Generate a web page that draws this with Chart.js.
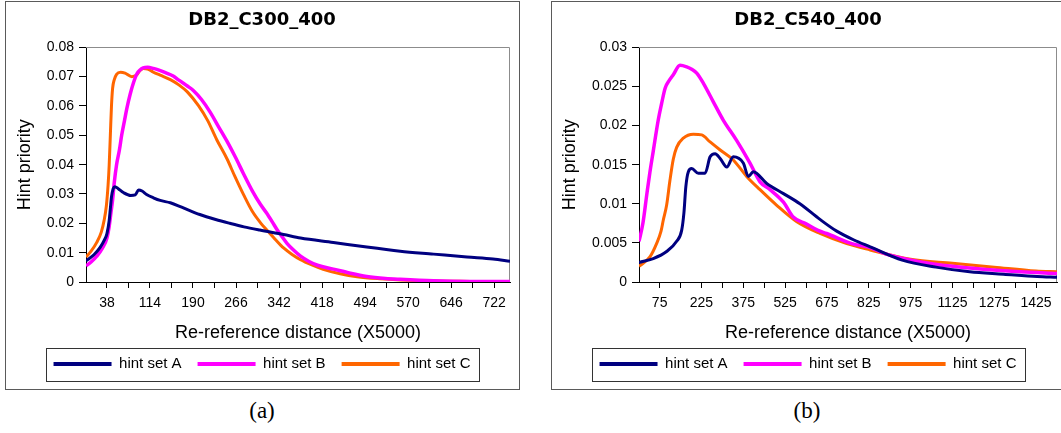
<!DOCTYPE html>
<html><head><meta charset="utf-8">
<script src="https://cdn.jsdelivr.net/npm/chart.js@4.4.1/dist/chart.umd.min.js"></script>
<style>
html,body{margin:0;padding:0;background:#fff;}
body{width:1061px;height:433px;overflow:hidden;position:relative;}
canvas{position:absolute;top:1px;}
.frame{position:absolute;top:1px;width:515px;height:389px;box-sizing:border-box;border:1px solid #5a5a5a;pointer-events:none;}
.cap{position:absolute;top:397px;font-family:'Liberation Serif','DejaVu Serif',serif;font-size:23px;line-height:28px;color:#000;transform:translateX(-50%);}
</style></head>
<body>
<canvas id="c1" width="514" height="388" style="left:5px"></canvas>
<canvas id="c2" width="514" height="388" style="left:551px"></canvas>
<div class="frame" style="left:5px"></div>
<div class="frame" style="left:551px"></div>
<div class="cap" style="left:262px">(a)</div>
<div class="cap" style="left:807px">(b)</div>
<script>
const seriesNames = ['hint set A', 'hint set B', 'hint set C'];
const seriesColors = ['#000080', '#ff00ff', '#ff6600'];

// ---- Chart (a): DB2_C300_400 ----
const aDistA = [1,15,26,34,38,42,44,46,49,52,58,67,80,88,94,100,108,120,132,150,170,202,230,255,280,308,350,380,438,497,556,615,674,720,750];
const aHintA = [0.0072,0.0093,0.0118,0.0145,0.0165,0.021,0.025,0.029,0.0318,0.0325,0.0318,0.0305,0.0295,0.0297,0.0314,0.0310,0.0298,0.0287,0.0278,0.0270,0.0255,0.0230,0.0213,0.0200,0.0188,0.0177,0.0162,0.0150,0.0135,0.0119,0.0105,0.0095,0.0085,0.0078,0.0071];
const aDistB = [1,10,20,30,38,42,45,48,51,55,60,64,69,73,79,85,91,96,102,110,120,130,143,155,165,180,191,205,220,235,250,265,279,295,309,320,330,338,347,356,368,380,395,410,438,468,497,530,556,615,680,750];
const aHintB = [0.0055,0.0068,0.0088,0.0115,0.015,0.019,0.0235,0.028,0.034,0.040,0.045,0.050,0.055,0.059,0.064,0.068,0.0710,0.0722,0.0730,0.0732,0.0728,0.0722,0.0712,0.0702,0.0688,0.0668,0.0652,0.0622,0.0580,0.0530,0.0480,0.0425,0.0370,0.0310,0.0265,0.0235,0.0205,0.0180,0.0155,0.0132,0.0108,0.0088,0.0070,0.0057,0.0044,0.0030,0.0019,0.0012,0.0009,0.0004,0.0002,0.0002];
const aDistC = [1,10,20,28,33,37,40,42,44,46,48,51,55,62,70,82,90,96,102,110,120,132,150,165,180,200,216,232,250,264,280,295,310,320,335,350,365,380,400,420,450,480,520,556,620,680,750];
const aHintC = [0.0085,0.0105,0.0135,0.017,0.021,0.026,0.033,0.040,0.050,0.060,0.066,0.069,0.0708,0.0715,0.0712,0.0700,0.0705,0.0720,0.0728,0.0726,0.0715,0.0705,0.0690,0.0672,0.0648,0.0600,0.0550,0.0485,0.0420,0.0360,0.0295,0.0240,0.0200,0.0178,0.0146,0.0116,0.0094,0.0076,0.0058,0.0043,0.0028,0.0018,0.0011,0.0007,0.0003,0.0002,0.0001];
const aTickMarks = [38,76,114,152,190,228,266,304,342,380,418,456,494,532,570,608,646,684,722];
const aTickLabels = [38,114,190,266,342,418,494,570,646,722];

// ---- Chart (b): DB2_C540_400 ----
const bDistA = [1,52,100,136,154,162,169,178,190,214,238,256,274,292,316,339,375,393,411,459,519,578,650,710,770,830,945,1066,1187,1308,1429,1500];
const bHintA = [0.0025,0.0030,0.0039,0.0052,0.0066,0.0088,0.0122,0.0141,0.0145,0.0139,0.0139,0.0160,0.0164,0.0158,0.0147,0.0160,0.0152,0.0135,0.0141,0.0126,0.0113,0.0100,0.0080,0.0065,0.0054,0.0045,0.0028,0.0019,0.0013,0.0010,0.0007,0.0006];
const bDistB = [1,15,29,40,52,70,82,95,110,124,148,172,190,208,232,268,303,351,399,435,471,519,554,602,643,674,764,830,885,1006,1126,1247,1368,1500];
const bHintB = [0.0052,0.0075,0.0112,0.0140,0.0167,0.0207,0.0228,0.0248,0.0258,0.0265,0.0277,0.0275,0.0272,0.0267,0.0254,0.0230,0.0207,0.0181,0.0152,0.0128,0.0118,0.0102,0.0083,0.0074,0.0066,0.0062,0.0049,0.0044,0.0036,0.0026,0.0020,0.0016,0.0013,0.0011];
const bDistC = [1,40,64,80,88,100,112,124,136,160,196,226,256,291,339,387,435,495,567,650,746,830,975,1125,1275,1425,1500];
const bHintC = [0.0020,0.0032,0.0049,0.0065,0.0079,0.0098,0.0130,0.0157,0.0172,0.0184,0.0189,0.0188,0.0179,0.0169,0.0156,0.0135,0.0118,0.0098,0.0077,0.0062,0.0049,0.0041,0.0029,0.0024,0.0019,0.0014,0.0013];
const bTickMarks = [75,150,225,300,375,450,525,600,675,750,825,900,975,1050,1125,1200,1275,1350,1425];
const bTickLabels = [75,225,375,525,675,825,975,1125,1275,1425];

const SANS = "'Liberation Sans', Arial, sans-serif";
const zip = (xs, ys) => xs.map((x, i) => ({x: x, y: ys[i]}));
const fmtY = v => v === 0 ? '0' : String(parseFloat(Number(v).toFixed(4)));

const framePlugin = {
  id: 'frameBox',
  beforeDatasetsDraw(chart) {
    const {ctx, chartArea: ca} = chart;
    ctx.save();
    ctx.strokeStyle = '#8c8c8c';
    ctx.lineWidth = 1;
    ctx.beginPath();
    const t = Math.round(ca.top) + 0.5, r = Math.round(ca.right) - 0.5;
    ctx.moveTo(Math.round(ca.left), t); ctx.lineTo(r, t); ctx.lineTo(r, Math.round(ca.bottom));
    ctx.stroke();
    ctx.restore();
  },
  afterDraw(chart) {
    const hb = chart.legend && chart.legend.legendHitBoxes;
    if (!hb || !hb.length) return;
    const ctx = chart.ctx;
    const last = hb[hb.length - 1];
    const l = Math.round(hb[0].left - 8) + 0.5;
    const r = Math.round(last.left + last.width + 9) + 0.5;
    const t = Math.round(hb[0].top - 9) + 0.5;
    const b = Math.round(hb[0].top + 24.5) + 0.5;
    ctx.save();
    ctx.strokeStyle = '#333';
    ctx.lineWidth = 1;
    ctx.strokeRect(l, t, r - l, b - t);
    ctx.restore();
  }
};

function makeChart(id, cfg) {
  const datasets = cfg.series.map((s, i) => ({
    label: seriesNames[i],
    data: zip(s[0], s[1]),
    borderColor: seriesColors[i],
    backgroundColor: seriesColors[i],
    borderWidth: i === 1 ? 3.5 : 3,
    pointRadius: 0,
    cubicInterpolationMode: 'monotone',
    fill: false
  }));
  return new Chart(document.getElementById(id), {
    type: 'line',
    data: {datasets},
    plugins: [framePlugin],
    options: {
      responsive: false,
      animation: false,
      events: [],
      layout: {padding: {left: cfg.padX, right: cfg.padX, top: 0, bottom: 7.5}},
      plugins: {
        tooltip: {enabled: false},
        title: {
          display: true, text: cfg.title, color: '#000',
          font: {family: "'DejaVu Sans', Verdana, sans-serif", weight: 'bold', size: 18},
          padding: {top: 8.2, bottom: 16.5}
        },
        legend: {
          position: 'bottom',
          labels: {
            boxWidth: 58, boxHeight: 4, padding: 16, color: '#000',
            font: {family: SANS, size: 15},
            generateLabels(chart) {
              return chart.data.datasets.map((ds, i) => ({
                text: ds.label, fillStyle: ds.borderColor, strokeStyle: ds.borderColor,
                lineWidth: 0, hidden: false, datasetIndex: i, fontColor: '#000'
              }));
            }
          }
        }
      },
      scales: {
        x: {
          type: 'linear', min: cfg.xMin, max: cfg.xMax,
          afterBuildTicks: s => { s.ticks = cfg.tickMarks.map(v => ({value: v})); },
          afterFit: s => { s.height = 58.5; },
          grid: {drawOnChartArea: false, drawTicks: true, tickLength: 6, tickColor: '#000'},
          border: {display: true, color: '#000', width: 1},
          ticks: {
            autoSkip: false, maxRotation: 0, minRotation: 0, padding: 7, color: '#000',
            font: {family: SANS, size: 14},
            callback: v => cfg.tickLabels.includes(v) ? String(v) : ''
          },
          title: {display: true, text: 'Re-reference distance (X5000)', color: '#000',
            font: {family: SANS, size: 18}, padding: {top: 0, bottom: -3}}
        },
        y: {
          min: 0, max: cfg.yMax,
          afterFit: s => { s.width = cfg.yWidth; },
          grid: {drawOnChartArea: false, drawTicks: true, tickLength: 7, tickColor: '#000'},
          border: {display: true, color: '#000', width: 1},
          ticks: {stepSize: cfg.yStep, padding: 5, color: '#000', font: {family: SANS, size: 14}, callback: fmtY},
          title: {display: true, text: 'Hint priority', color: '#000',
            font: {family: SANS, size: 18}, padding: {top: cfg.yTitlePad, bottom: 0}}
        }
      }
    }
  });
}

makeChart('c1', {
  title: 'DB2_C300_400',
  series: [[aDistA, aHintA], [aDistB, aHintB], [aDistC, aHintC]],
  xMin: 1, xMax: 750, tickMarks: aTickMarks, tickLabels: aTickLabels,
  yMax: 0.08, yStep: 0.01, yWidth: 72, padX: 9, yTitlePad: 0.2
});
makeChart('c2', {
  title: 'DB2_C540_400',
  series: [[bDistA, bHintA], [bDistB, bHintB], [bDistC, bHintC]],
  xMin: 1, xMax: 1500, tickMarks: bTickMarks, tickLabels: bTickLabels,
  yMax: 0.03, yStep: 0.005, yWidth: 80, padX: 8, yTitlePad: 0
});
</script>
</body></html>
